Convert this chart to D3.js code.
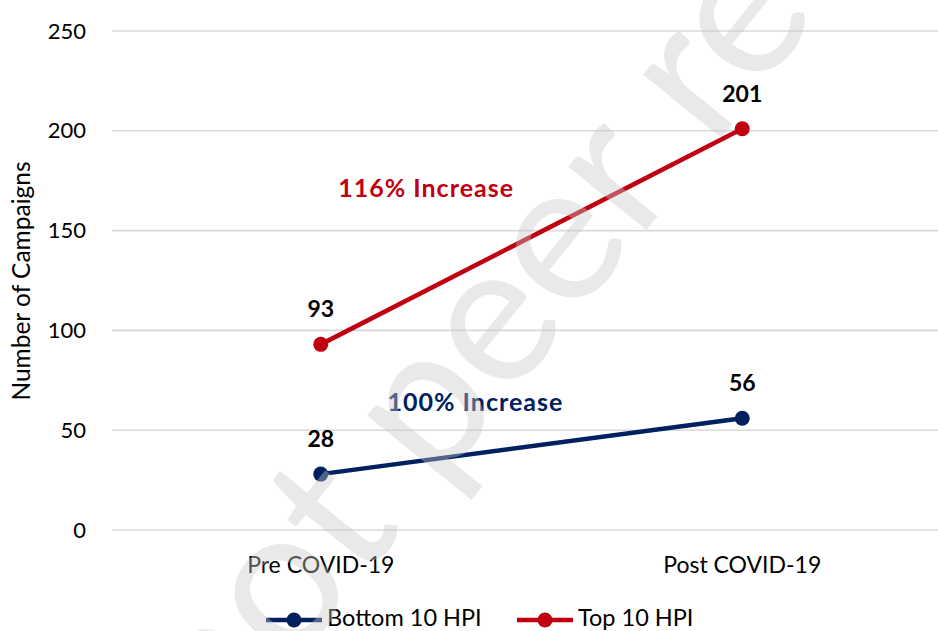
<!DOCTYPE html>
<html>
<head>
<meta charset="utf-8">
<script src="https://cdn.jsdelivr.net/npm/d3@7"></script>
<style>
  html, body { margin: 0; padding: 0; background: #fff; }
  svg { display: block; }
  text { font-family: Lato, "Open Sans", sans-serif; }
</style>
</head>
<body>
<svg id="chart" width="938" height="631"></svg>
<script>
// Campaign counts before and after COVID-19
const categories = ["Pre COVID-19", "Post COVID-19"];
const bottom10 = [28, 56];
const top10 = [93, 201];
const yTicks = [0, 50, 100, 150, 200, 250];
const seriesNames = ["Bottom 10 HPI", "Top 10 HPI"];
const seriesColors = ["#002060", "#C00010"];

const W = 938, H = 631;
const svg = d3.select("#chart");

const x = d3.scaleBand().domain(categories).range([110, 953]).padding(0);
const y = d3.scaleLinear().domain([0, 250]).range([530, 31]);
const cx = c => x(c) + x.bandwidth() / 2;

// horizontal gridlines
svg.append("g").selectAll("line").data(yTicks).join("line")
  .attr("x1", 112).attr("x2", W)
  .attr("y1", d => y(d)).attr("y2", d => y(d))
  .attr("stroke", "#d9d9d9").attr("stroke-width", 1.6);

// y axis tick labels
const yAxis = d3.axisLeft(y).tickValues(yTicks).tickSize(0).tickPadding(0);
const gy = svg.append("g").attr("transform", "translate(86,0)").call(yAxis);
gy.select(".domain").remove();
gy.selectAll("text")
  .attr("font-family", "Lato, sans-serif").attr("font-size", 22)
  .attr("fill", "#000").attr("dy", "0.32em");

// y axis title
svg.append("text")
  .attr("transform", "translate(30,281) rotate(-90)")
  .attr("text-anchor", "middle")
  .attr("font-size", 24.5).attr("fill", "#000")
  .text("Number of Campaigns");

// x axis labels
const xAxis = d3.axisBottom(x).tickSize(0).tickPadding(0);
const gx = svg.append("g").attr("transform", "translate(0,573)").call(xAxis);
gx.select(".domain").remove();
gx.selectAll("text")
  .attr("font-family", "Lato, sans-serif").attr("font-size", 23)
  .attr("fill", "#000").attr("dy", 0);

// series lines, markers and value labels
const series = [bottom10, top10];
const line = d3.line().x((d, i) => cx(categories[i])).y(d => y(d));
series.forEach((vals, s) => {
  const g = svg.append("g");
  g.append("path").datum(vals)
    .attr("d", line).attr("fill", "none")
    .attr("stroke", seriesColors[s]).attr("stroke-width", 4.5);
  g.selectAll("circle").data(vals).join("circle")
    .attr("cx", (d, i) => cx(categories[i])).attr("cy", d => y(d))
    .attr("r", 7.5).attr("fill", seriesColors[s]);
  g.selectAll("text").data(vals).join("text")
    .attr("x", (d, i) => cx(categories[i])).attr("y", d => y(d) - 27)
    .attr("text-anchor", "middle").attr("font-weight", 700)
    .attr("font-size", 23).attr("fill", "#000")
    .text(d => d);
});

// percentage change annotations
const pct = d3.format(".0%");
const change = vals => pct((vals[1] - vals[0]) / vals[0]) + " Increase";
const span = cx(categories[1]) - cx(categories[0]);
svg.append("text")
  .attr("x", cx(categories[0]) + 0.25 * span).attr("y", 197).attr("text-anchor", "middle")
  .attr("font-size", 25).attr("font-weight", 700).attr("letter-spacing", 1)
  .attr("fill", seriesColors[1])
  .text(change(top10));
svg.append("text")
  .attr("x", cx(categories[0]) + 0.367 * span).attr("y", 411).attr("text-anchor", "middle")
  .attr("font-size", 25).attr("font-weight", 700).attr("letter-spacing", 1)
  .attr("fill", seriesColors[0])
  .text(change(bottom10));

// legend
const legendItems = [
  { name: seriesNames[0], color: seriesColors[0], x0: 266 },
  { name: seriesNames[1], color: seriesColors[1], x0: 517 }
];
const lg = svg.append("g");
legendItems.forEach(it => {
  lg.append("line").attr("x1", it.x0).attr("x2", it.x0 + 56)
    .attr("y1", 620).attr("y2", 620)
    .attr("stroke", it.color).attr("stroke-width", 4.5);
  lg.append("circle").attr("cx", it.x0 + 28).attr("cy", 620).attr("r", 7.5)
    .attr("fill", it.color);
  lg.append("text").attr("x", it.x0 + 61).attr("y", 626)
    .attr("font-size", 23.5).attr("fill", "#000").text(it.name);
});

// diagonal draft watermark across the plot
svg.append("text")
  .attr("transform", "translate(716,144) rotate(-51)")
  .attr("font-family", "'Liberation Sans', Arial, sans-serif")
  .attr("font-size", 198).attr("text-anchor", "middle")
  .attr("fill", "#c8c8c8").attr("fill-opacity", 0.4)
  .text("not peer reviewed");
</script>
</body>
</html>
